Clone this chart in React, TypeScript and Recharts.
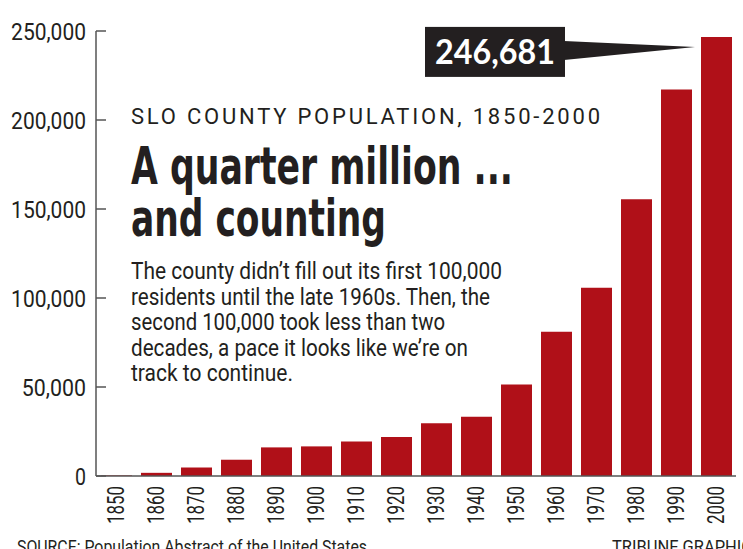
import React from "react";
import { BarChart, Bar, XAxis, YAxis, LabelList, Customized } from "recharts";

const years = ["1850","1860","1870","1880","1890","1900","1910","1920","1930","1940","1950","1960","1970","1980","1990","2000"];
const population = [336,1782,4772,9142,16072,16637,19383,21893,29613,33246,51417,81044,105690,155435,217162,246681];
const yTicks = [0,50000,100000,150000,200000,250000];
const subtitle = "SLO COUNTY POPULATION, 1850-2000";
const headline = ["A quarter million ...", "and counting"];
const body = [
  "The county didn\u2019t fill out its first 100,000",
  "residents until the late 1960s. Then, the",
  "second 100,000 took less than two",
  "decades, a pace it looks like we\u2019re on",
  "track to continue.",
];
const bodyWidths = [371, 359, 314, 337, 162];
const source = "SOURCE: Population Abstract of the United States";
const credit = "TRIBUNE GRAPHIC";

const data = years.map((y, i) => ({ year: y, pop: population[i] }));

const NARROW = "'DejaVu Sans Condensed', 'Roboto', sans-serif";
const LIGHT = "'Roboto', 'DejaVu Sans Condensed', sans-serif";
const INK = "#231F20";
const RED = "#B01018";

const fmt = (v: number) => v.toLocaleString("en-US");

const XTick = (props: any) => {
  const { x, y, payload } = props;
  const ty = y + 2;
  return (
    <text
      x={x}
      y={ty}
      transform={`rotate(-90 ${x} ${ty})`}
      textAnchor="end"
      dy="0.36em"
      fontFamily={LIGHT}
      fontSize={23}
      fill={INK}
      textLength={38}
      lengthAdjust="spacingAndGlyphs"
    >
      {payload.value}
    </text>
  );
};

const YTick = (props: any) => {
  const { x, y, payload } = props;
  const s = fmt(payload.value);
  const len = s === "0" ? 11 : s.length * 10.7;
  return (
    <text
      x={x}
      y={y}
      textAnchor="end"
      dy="0.36em"
      fontFamily={LIGHT}
      fontSize={24}
      fill={INK}
      textLength={len}
      lengthAdjust="spacingAndGlyphs"
    >
      {s}
    </text>
  );
};

const Callout = (props: any) => {
  const { x, y, index, value } = props;
  if (index !== population.length - 1) return null;
  const bx = x - 276;
  const by = y - 10;
  return (
    <g>
      <polygon points={`${bx + 139},${y + 4} ${x - 6},${y + 10} ${bx + 139},${y + 23}`} fill={INK} />
      <rect x={bx} y={by} width={140} height={50} fill={INK} />
      <text
        x={bx + 70}
        y={by + 37}
        textAnchor="middle"
        fontFamily="'Lato', 'Open Sans', sans-serif"
        fontWeight={700}
        fontSize={35}
        fill="#fff"
        textLength={120}
        lengthAdjust="spacingAndGlyphs"
      >
        {fmt(value)}
      </text>
    </g>
  );
};

const Overlay = () => (
  <g>
    <text x={131} y={124} fontFamily={LIGHT} fontSize={22} fill={INK} textLength={469} lengthAdjust="spacing">
      {subtitle}
    </text>
    <text x={131} y={184} fontFamily={NARROW} fontWeight={700} fontSize={51} fill={INK} textLength={382} lengthAdjust="spacingAndGlyphs">
      {headline[0]}
    </text>
    <text x={131} y={236} fontFamily={NARROW} fontWeight={700} fontSize={51} fill={INK} textLength={255} lengthAdjust="spacingAndGlyphs">
      {headline[1]}
    </text>
    {body.map((line, i) => (
      <text
        key={i}
        x={131}
        y={279 + i * 25.5}
        fontFamily={LIGHT}
        fontSize={24}
        fill={INK}
        textLength={bodyWidths[i]}
        lengthAdjust="spacingAndGlyphs"
      >
        {line}
      </text>
    ))}
    <text x={17} y={553} fontFamily={LIGHT} fontSize={18} fill={INK} textLength={350} lengthAdjust="spacingAndGlyphs">
      {source}
    </text>
    <text x={612} y={553} fontFamily={LIGHT} fontSize={18} fill={INK} textLength={140} lengthAdjust="spacingAndGlyphs">
      {credit}
    </text>
  </g>
);

export default function App() {
  return (
    <div style={{ position: "absolute", left: 0, top: 0, background: "#fff" }}>
      <BarChart
        width={743}
        height={549}
        data={data}
        margin={{ top: 31, right: 7, bottom: 0, left: 0 }}
      >
        <XAxis
          dataKey="year"
          height={73}
          tickLine={false}
          axisLine={{ stroke: "#555", strokeWidth: 1.5 }}
          tick={<XTick />}
          interval={0}
        />
        <YAxis
          width={96}
          domain={[0, 250000]}
          ticks={yTicks}
          tickSize={-10}
          tickMargin={20}
          tickLine={{ stroke: "#555", strokeWidth: 1.5 }}
          axisLine={{ stroke: "#555", strokeWidth: 1.5 }}
          tick={<YTick />}
        />
        <Bar dataKey="pop" fill={RED} barSize={31} isAnimationActive={false}>
          <LabelList dataKey="pop" content={<Callout />} />
        </Bar>
        <Customized component={<Overlay />} />
      </BarChart>
    </div>
  );
}
